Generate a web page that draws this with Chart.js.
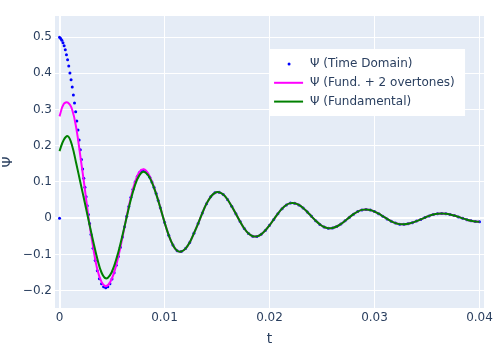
<!DOCTYPE html>
<html>
<head>
<meta charset="utf-8">
<script src="https://cdn.jsdelivr.net/npm/chart.js@4.4.0/dist/chart.umd.min.js"></script>
<style>
  html, body { margin: 0; padding: 0; background: #fff; }
  #wrap { width: 500px; height: 350px; }
</style>
</head>
<body>
<div id="wrap"><canvas id="psiChart" width="500" height="350"></canvas></div>
<script>
// fitted curves are sampled every 0.4 ms
const lineStep = 0.0004;

// t = 0 .. 0.0096, where the two fits still differ
const overtonesHead = [0.281, 0.315, 0.319, 0.300, 0.248, 0.168, 0.083, -0.006, -0.080, -0.142, -0.176, -0.188, -0.178,
  -0.150, -0.106, -0.052, 0.005, 0.058, 0.100, 0.127, 0.135, 0.125, 0.101, 0.068, 0.029];
const fundamentalHead = [0.185, 0.216, 0.226, 0.200, 0.150, 0.097, 0.044, -0.010, -0.063, -0.112, -0.150, -0.166, -0.158,
  -0.132, -0.094, -0.047, 0.003, 0.052, 0.092, 0.118, 0.128, 0.120, 0.099, 0.067, 0.029];

// t = 0.0100 .. 0.0400, all three curves lie on top of each other here
const sharedTail = [-0.011, -0.047, -0.074, -0.090, -0.092, -0.084, -0.067, -0.042, -0.015, 0.014, 0.040, 0.059, 0.070,
  0.0715, 0.065, 0.0515, 0.033, 0.012, -0.0095, -0.0285, -0.0425, -0.050, -0.0503, -0.0446, -0.034, -0.0198,
  -0.0037, 0.0123, 0.0263, 0.0364, 0.0415, 0.0412, 0.0365, 0.0282, 0.0172, 0.005, -0.007, -0.0172, -0.0245,
  -0.0278, -0.0271, -0.023, -0.0161, -0.0073, 0.0021, 0.0111, 0.0182, 0.0228, 0.024, 0.0223, 0.0182, 0.0122,
  0.0052, -0.0021, -0.0087, -0.0137, -0.0165, -0.0169, -0.0154, -0.0124, -0.0082, -0.0034, 0.0016, 0.0062,
  0.0099, 0.0123, 0.013, 0.0122, 0.0102, 0.0071, 0.0034, -0.0006, -0.0043, -0.0073, -0.0093, -0.010];

// time domain samples before the tail
const tdTime = [0, 0, 0.00011, 0.00022, 0.00033, 0.00044, 0.00055, 0.00066, 0.00077, 0.00088, 0.00099, 0.0011,
  0.00121, 0.00132, 0.00143, 0.00154, 0.00165, 0.00176, 0.00187, 0.00198, 0.00209, 0.0022, 0.00231, 0.00242,
  0.00253, 0.00264, 0.00275, 0.00286, 0.0030, 0.0032, 0.0034, 0.0036, 0.0038, 0.0040, 0.0042, 0.0044, 0.0046,
  0.0048, 0.0050, 0.0052, 0.0054, 0.0056, 0.0058, 0.0060, 0.0062, 0.0064, 0.0066, 0.0068, 0.0070, 0.0072,
  0.0074, 0.0076, 0.0078, 0.0080, 0.0082, 0.0084, 0.0086, 0.0088, 0.0090, 0.0092, 0.0094, 0.0096];
const tdPsi = [0, 0.4995, 0.496, 0.491, 0.484, 0.476, 0.465, 0.451, 0.437, 0.420, 0.401, 0.382,
  0.362, 0.340, 0.318, 0.294, 0.268, 0.243, 0.216, 0.189, 0.162, 0.136, 0.110, 0.085,
  0.059, 0.034, 0.010, -0.015, -0.045, -0.083, -0.117, -0.145, -0.167, -0.181, -0.189, -0.192, -0.189,
  -0.181, -0.168, -0.151, -0.130, -0.106, -0.080, -0.052, -0.024, 0.005, 0.032, 0.058, 0.080, 0.100,
  0.114, 0.125, 0.131, 0.132, 0.129, 0.122, 0.113, 0.100, 0.085, 0.068, 0.049, 0.029];

const seriesNames = ['Ψ (Time Domain)', 'Ψ (Fund. + 2 overtones)', 'Ψ (Fundamental)'];
const xTicks = [0, 0.01, 0.02, 0.03, 0.04];

const textColor = '#2a3f5f';
const fontFamily = '"DejaVu Sans", Verdana, sans-serif';

const overtones = overtonesHead.concat(sharedTail);
const fundamental = fundamentalHead.concat(sharedTail);
const lineTime = overtones.map((_, i) => +(i * lineStep).toFixed(4));
const tailTime = lineTime.slice(overtonesHead.length);

const toPoints = (xs, ys) => xs.map((x, i) => ({ x: x, y: ys[i] }));

const plotBg = {
    id: 'plotBg',
    beforeDraw(chart) {
        const { ctx, chartArea: a } = chart;
        ctx.save();
        ctx.fillStyle = '#E5ECF6';
        ctx.fillRect(a.left, a.top, a.width, a.height);
        ctx.restore();
    }
};

// plotly-like legend sitting inside the plot
const innerLegend = {
    id: 'innerLegend',
    afterDraw(chart) {
        const { ctx, chartArea: a } = chart;
        const left = a.left + 0.499 * a.width;
        const top = a.top + 0.113 * a.height;
        ctx.save();
        ctx.fillStyle = '#fff';
        ctx.fillRect(left, top, 196, 67);
        ctx.font = '12px ' + fontFamily;
        ctx.textBaseline = 'middle';
        chart.data.datasets.forEach((ds, i) => {
            const y = top + 15 + i * 18.8;
            if (ds.showLine) {
                ctx.strokeStyle = ds.borderColor;
                ctx.lineWidth = ds.borderWidth;
                ctx.beginPath();
                ctx.moveTo(left + 5, y);
                ctx.lineTo(left + 34, y);
                ctx.stroke();
            } else {
                ctx.fillStyle = ds.backgroundColor;
                ctx.beginPath();
                ctx.arc(left + 20, y, ds.pointRadius, 0, Math.PI * 2);
                ctx.fill();
            }
            ctx.fillStyle = textColor;
            ctx.fillText(ds.label, left + 41, y);
        });
        ctx.restore();
    }
};

const fmt = v => {
    const s = String(Math.round(v * 100) / 100);
    return s.replace('-', '\u2212');
};

new Chart(document.getElementById('psiChart'), {
    type: 'scatter',
    data: {
        datasets: [{
            label: seriesNames[0],
            data: toPoints(tdTime, tdPsi).concat(toPoints(tailTime, sharedTail)),
            showLine: false,
            pointRadius: 1.5,
            pointBorderWidth: 0,
            backgroundColor: '#0000ff',
            borderColor: '#0000ff',
            order: 3
        }, {
            label: seriesNames[1],
            data: toPoints(lineTime, overtones),
            showLine: true,
            pointRadius: 0,
            borderWidth: 2,
            borderColor: '#ff00ff',
            backgroundColor: '#ff00ff',
            tension: 0.4,
            order: 2
        }, {
            label: seriesNames[2],
            data: toPoints(lineTime, fundamental),
            showLine: true,
            pointRadius: 0,
            borderWidth: 2,
            borderColor: '#008000',
            backgroundColor: '#008000',
            tension: 0.4,
            order: 1
        }]
    },
    options: {
        responsive: false,
        animation: false,
        devicePixelRatio: 1,
        layout: { padding: { top: 16, right: 16, left: 0, bottom: 0 } },
        plugins: {
            legend: { display: false },
            tooltip: { enabled: false }
        },
        scales: {
            x: {
                type: 'linear',
                min: -0.00043,
                max: 0.04043,
                afterFit: s => { s.height = 42; },
                afterBuildTicks: s => { s.ticks = xTicks.map(v => ({ value: v })); },
                ticks: {
                    color: textColor,
                    font: { family: fontFamily, size: 12 },
                    padding: 3,
                    maxRotation: 0,
                    callback: v => fmt(v)
                },
                grid: {
                    color: '#fff',
                    lineWidth: c => (c.tick && c.tick.value === 0 ? 2 : 1),
                    drawTicks: false
                },
                border: { display: false },
                title: {
                    display: true,
                    text: 't',
                    color: textColor,
                    font: { family: fontFamily, size: 14 },
                    padding: { top: 0, bottom: 2 }
                }
            },
            y: {
                min: -0.248,
                max: 0.558,
                afterFit: s => { s.width = 55; },
                ticks: {
                    stepSize: 0.1,
                    includeBounds: false,
                    color: textColor,
                    font: { family: fontFamily, size: 12 },
                    padding: 3,
                    callback: v => fmt(v)
                },
                grid: {
                    color: '#fff',
                    lineWidth: c => (c.tick && c.tick.value === 0 ? 2 : 1),
                    drawTicks: false
                },
                border: { display: false },
                title: {
                    display: true,
                    text: 'Ψ',
                    color: textColor,
                    font: { family: fontFamily, size: 14 },
                    padding: { top: 0, bottom: 0 }
                }
            }
        }
    },
    plugins: [plotBg, innerLegend]
});
</script>
</body>
</html>
